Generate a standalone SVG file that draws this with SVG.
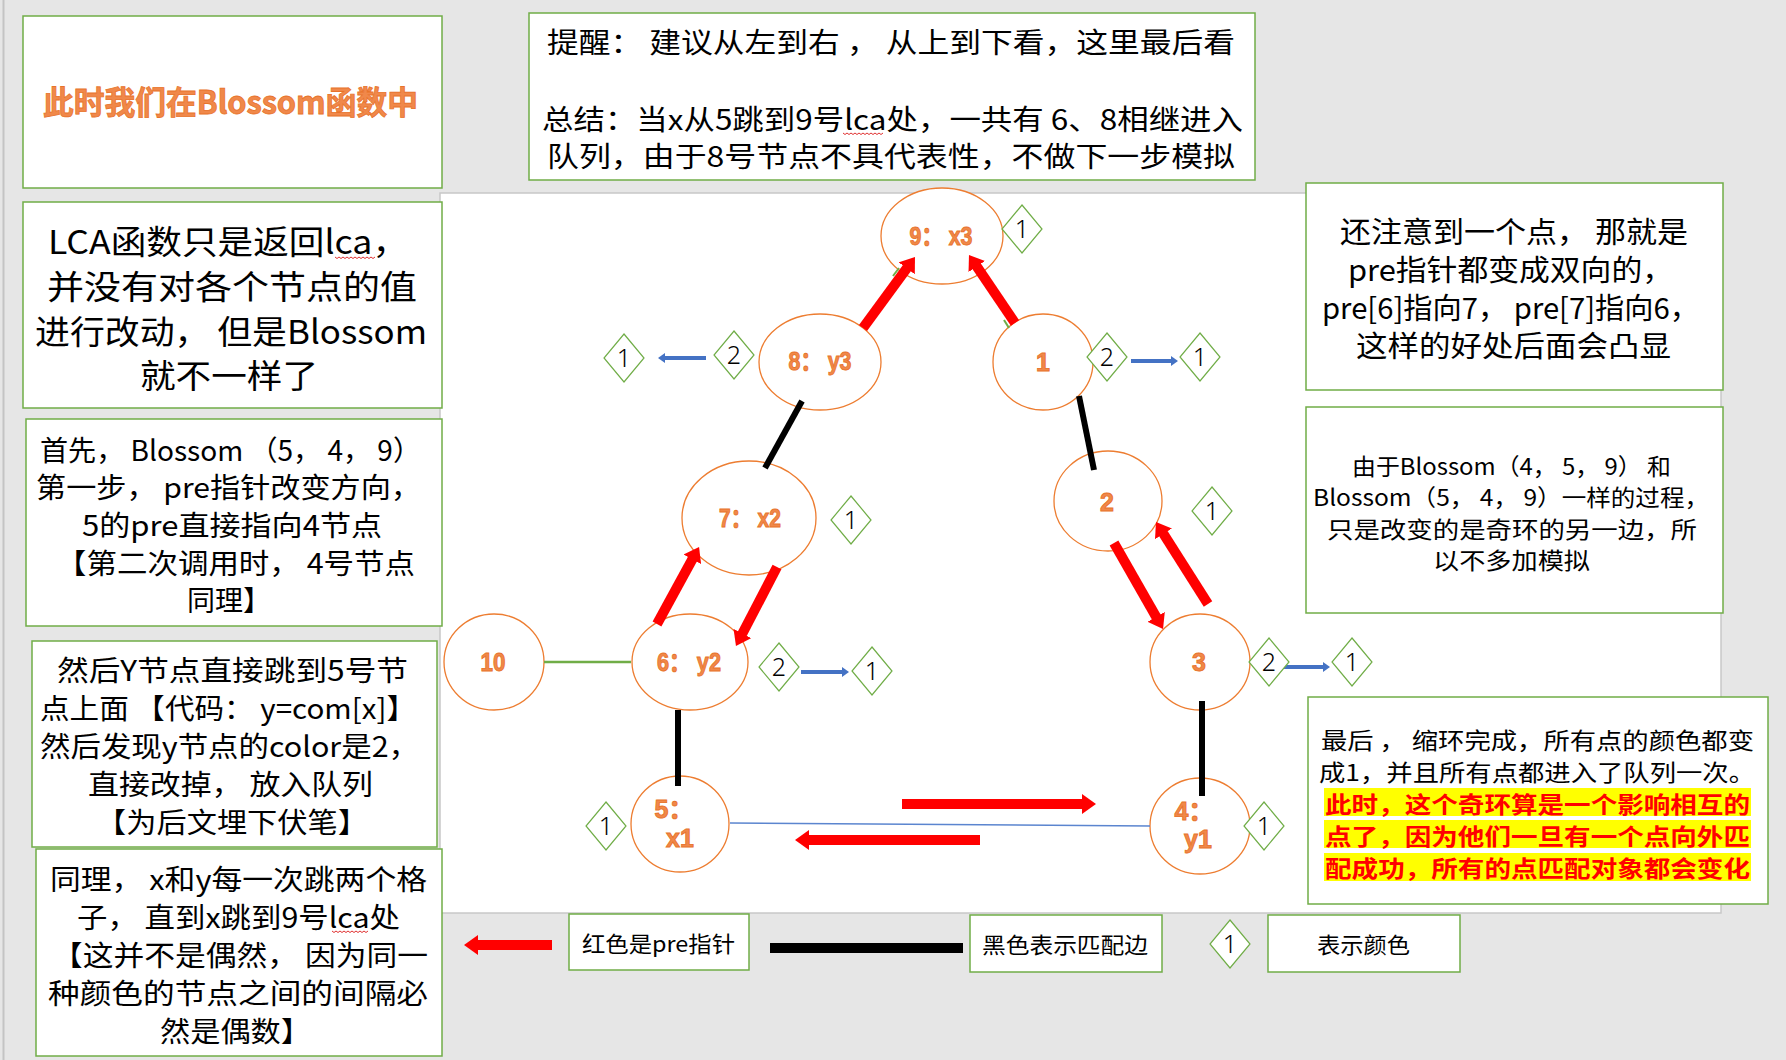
<svg xmlns="http://www.w3.org/2000/svg" xmlns:xlink="http://www.w3.org/1999/xlink" width="1786" height="1060" viewBox="0 0 1786 1060">
<style>
.box{fill:#fff;stroke:#70ad47;stroke-width:1.5}
.t{font-family:"Noto Sans CJK SC","Noto Sans",sans-serif;fill:#000}
.title{font-family:"Noto Sans CJK SC",sans-serif;font-weight:bold;font-size:32px;fill:#f0884a;stroke:#e8732a;stroke-width:0.8}
.hl{font-family:"Noto Sans CJK SC",sans-serif;font-weight:bold;font-size:23px;fill:#ff0000}
.node ellipse{fill:#fff;stroke:#ed7d31;stroke-width:1.3}
.nl{font-family:"Liberation Sans","Noto Sans CJK SC",sans-serif;font-weight:bold;font-size:25px;fill:#f0884a;stroke:#e8732a;stroke-width:0.9;text-anchor:middle}
.dia use{fill:#fff;stroke:#70ad47;stroke-width:1.2}
.dt{font-family:"Noto Sans","DejaVu Sans",sans-serif;font-weight:300;font-size:25px;fill:#000;text-anchor:middle}
.match{stroke:#000;stroke-width:6}
.pre{stroke:#ff0000;stroke-width:10;marker-end:url(#rh)}
.col{stroke:#4472c4;stroke-width:4;marker-end:url(#bh)}
.spell{fill:none;stroke:#e03030;stroke-width:1}
</style>
<defs>
<marker id="rh" markerUnits="userSpaceOnUse" markerWidth="14" markerHeight="20" viewBox="0 0 14 20" refX="2" refY="10" orient="auto">
<path d="M0,0 L14,10 L0,20 Z" fill="#ff0000"/>
</marker>
<marker id="bh" markerUnits="userSpaceOnUse" markerWidth="7" markerHeight="10" viewBox="0 0 7 10" refX="1" refY="5" orient="auto">
<path d="M0,0 L7,5 L0,10 Z" fill="#4472c4"/>
</marker>
<polygon id="dshape" points="0,-24 20,0 0,24 -20,0"/>
</defs>

<rect x="0" y="0" width="1786" height="1060" fill="#e6e6e6"/>
<line x1="3.5" y1="0" x2="3.5" y2="1060" stroke="#c4c4c4" stroke-width="2"/>
<rect x="440" y="193" width="1281" height="720" fill="#fff" stroke="#c8c8c8" stroke-width="1.5"/>

<!-- text boxes -->
<g id="box-title">
<rect class="box" x="23" y="16" width="419" height="172"/>
<text class="title" x="43" y="114" textLength="375" lengthAdjust="spacingAndGlyphs">此时我们在Blossom函数中</text>
</g>

<g id="box-lca" class="t" font-size="33">
<rect class="box" x="23" y="202" width="419" height="206"/>
<text x="48" y="254" textLength="360" lengthAdjust="spacingAndGlyphs">LCA函数只是返回lca，</text>
<text x="47" y="299" textLength="370" lengthAdjust="spacingAndGlyphs">并没有对各个节点的值</text>
<text x="35" y="344" textLength="392" lengthAdjust="spacingAndGlyphs">进行改动，  但是Blossom</text>
<text x="140" y="388" textLength="178" lengthAdjust="spacingAndGlyphs">就不一样了</text>
<path class="spell" d="M335,257 l2,1.5 l2,-1.5 l2,1.5 l2,-1.5 l2,1.5 l2,-1.5 l2,1.5 l2,-1.5 l2,1.5 l2,-1.5 l2,1.5 l2,-1.5 l2,1.5 l2,-1.5 l2,1.5 l2,-1.5 l2,1.5 l2,-1.5 l2,1.5 l2,-1.5"/>
</g>

<g id="box-first" class="t" font-size="28">
<rect class="box" x="26" y="419" width="416" height="207"/>
<text x="40" y="461" textLength="381" lengthAdjust="spacingAndGlyphs">首先，  Blossom （5，  4，  9）</text>
<text x="36" y="498" textLength="385" lengthAdjust="spacingAndGlyphs">第一步，  pre指针改变方向，</text>
<text x="82" y="536" textLength="300" lengthAdjust="spacingAndGlyphs">5的pre直接指向4节点</text>
<text x="56" y="574" textLength="359" lengthAdjust="spacingAndGlyphs">【第二次调用时，  4号节点</text>
<text x="187" y="611" textLength="84" lengthAdjust="spacingAndGlyphs">同理】</text>
</g>

<g id="box-then" class="t" font-size="28">
<rect class="box" x="32" y="641" width="405" height="206"/>
<text x="57" y="681" textLength="351" lengthAdjust="spacingAndGlyphs">然后Y节点直接跳到5号节</text>
<text x="40" y="719" textLength="376" lengthAdjust="spacingAndGlyphs">点上面 【代码：  y=com[x]】</text>
<text x="40" y="757" textLength="379" lengthAdjust="spacingAndGlyphs">然后发现y节点的color是2，</text>
<text x="88" y="795" textLength="285" lengthAdjust="spacingAndGlyphs">直接改掉，  放入队列</text>
<text x="96" y="833" textLength="272" lengthAdjust="spacingAndGlyphs">【为后文埋下伏笔】</text>
</g>

<g id="box-same" class="t" font-size="28">
<rect class="box" x="36" y="849" width="406" height="207"/>
<text x="50" y="890" textLength="377" lengthAdjust="spacingAndGlyphs">同理，  x和y每一次跳两个格</text>
<text x="77" y="928" textLength="323" lengthAdjust="spacingAndGlyphs">子，  直到x跳到9号lca处</text>
<text x="52" y="966" textLength="376" lengthAdjust="spacingAndGlyphs">【这并不是偶然，  因为同一</text>
<text x="48" y="1004" textLength="380" lengthAdjust="spacingAndGlyphs">种颜色的节点之间的间隔必</text>
<text x="160" y="1042" textLength="151" lengthAdjust="spacingAndGlyphs">然是偶数】</text>
<path class="spell" d="M332,931 l2,1.5 l2,-1.5 l2,1.5 l2,-1.5 l2,1.5 l2,-1.5 l2,1.5 l2,-1.5 l2,1.5 l2,-1.5 l2,1.5 l2,-1.5 l2,1.5 l2,-1.5 l2,1.5 l2,-1.5 l2,1.5 l2,-1.5"/>
</g>

<g id="box-note" class="t" font-size="28">
<rect class="box" x="529" y="13" width="726" height="167"/>
<text x="547" y="53" textLength="688" lengthAdjust="spacingAndGlyphs">提醒：  建议从左到右 ，  从上到下看，这里最后看</text>
<text x="542" y="130" textLength="701" lengthAdjust="spacingAndGlyphs">总结：当x从5跳到9号lca处，一共有 6、8相继进入</text>
<text x="547" y="167" textLength="688" lengthAdjust="spacingAndGlyphs">队列，由于8号节点不具代表性，不做下一步模拟</text>
<path class="spell" d="M843,133 l2,1.5 l2,-1.5 l2,1.5 l2,-1.5 l2,1.5 l2,-1.5 l2,1.5 l2,-1.5 l2,1.5 l2,-1.5 l2,1.5 l2,-1.5 l2,1.5 l2,-1.5 l2,1.5 l2,-1.5 l2,1.5 l2,-1.5 l2,1.5 l2,-1.5"/>
</g>

<g id="box-notice" class="t" font-size="29">
<rect class="box" x="1306" y="183" width="417" height="207"/>
<text x="1340" y="243" textLength="348" lengthAdjust="spacingAndGlyphs">还注意到一个点，  那就是</text>
<text x="1348" y="281" textLength="325" lengthAdjust="spacingAndGlyphs">pre指针都变成双向的，</text>
<text x="1322" y="319" textLength="377" lengthAdjust="spacingAndGlyphs">pre[6]指向7，  pre[7]指向6，</text>
<text x="1356" y="357" textLength="315" lengthAdjust="spacingAndGlyphs">这样的好处后面会凸显</text>
</g>

<g id="box-since" class="t" font-size="23">
<rect class="box" x="1306" y="407" width="417" height="206"/>
<text x="1352" y="475" textLength="319" lengthAdjust="spacingAndGlyphs">由于Blossom（4，  5，  9）  和</text>
<text x="1313" y="506" textLength="396" lengthAdjust="spacingAndGlyphs">Blossom（5，  4，  9）一样的过程，</text>
<text x="1327" y="538" textLength="370" lengthAdjust="spacingAndGlyphs">只是改变的是奇环的另一边，所</text>
<text x="1433" y="569" textLength="157" lengthAdjust="spacingAndGlyphs">以不多加模拟</text>
</g>

<g id="box-final" class="t" font-size="23">
<rect class="box" x="1308" y="697" width="460" height="207"/>
<text x="1321" y="749" textLength="433" lengthAdjust="spacingAndGlyphs">最后 ，  缩环完成，所有点的颜色都变</text>
<text x="1319" y="781" textLength="436" lengthAdjust="spacingAndGlyphs">成1，并且所有点都进入了队列一次。</text>
<rect x="1324" y="788" width="427" height="28" fill="#ffff00"/>
<rect x="1324" y="820" width="427" height="28" fill="#ffff00"/>
<rect x="1324" y="853" width="427" height="28" fill="#ffff00"/>
<text class="hl" x="1325" y="813" textLength="425" lengthAdjust="spacingAndGlyphs">此时，这个奇环算是一个影响相互的</text>
<text class="hl" x="1325" y="845" textLength="425" lengthAdjust="spacingAndGlyphs">点了，因为他们一旦有一个点向外匹</text>
<text class="hl" x="1325" y="877" textLength="425" lengthAdjust="spacingAndGlyphs">配成功，所有的点匹配对象都会变化</text>
</g>

<!-- legend -->
<g id="legend-pre" class="t" font-size="22">
<rect class="box" x="569" y="914" width="180" height="56"/>
<text x="582" y="952" textLength="153" lengthAdjust="spacingAndGlyphs">红色是pre指针</text>
</g>
<g id="legend-match" class="t" font-size="22">
<rect class="box" x="970" y="915" width="192" height="57"/>
<text x="982" y="953" textLength="166" lengthAdjust="spacingAndGlyphs">黑色表示匹配边</text>
</g>
<g id="legend-color" class="t" font-size="22">
<rect class="box" x="1268" y="915" width="192" height="57"/>
<text x="1317" y="953" textLength="93" lengthAdjust="spacingAndGlyphs">表示颜色</text>
</g>

<!-- graph nodes -->
<g id="n9" class="node"><ellipse cx="942" cy="236" rx="61" ry="48"/><text class="nl" x="941" y="245" textLength="63" lengthAdjust="spacingAndGlyphs">9： x3</text></g>
<g id="n8" class="node"><ellipse cx="820" cy="362" rx="61" ry="48"/><text class="nl" x="820" y="370" textLength="63" lengthAdjust="spacingAndGlyphs">8： y3</text></g>
<g id="n1" class="node"><ellipse cx="1043" cy="362" rx="50" ry="48"/><text class="nl" x="1043" y="371">1</text></g>
<g id="n7" class="node"><ellipse cx="749" cy="518" rx="67" ry="57"/><text class="nl" x="750" y="527" textLength="62" lengthAdjust="spacingAndGlyphs">7： x2</text></g>
<g id="n2" class="node"><ellipse cx="1108" cy="501" rx="54" ry="50"/><text class="nl" x="1107" y="511">2</text></g>
<g id="n10" class="node"><ellipse cx="494" cy="662" rx="50" ry="48"/><text class="nl" x="493" y="671" textLength="25" lengthAdjust="spacingAndGlyphs">10</text></g>
<g id="n6" class="node"><ellipse cx="690" cy="662" rx="58" ry="48"/><text class="nl" x="689" y="671" textLength="64" lengthAdjust="spacingAndGlyphs">6： y2</text></g>
<g id="n3" class="node"><ellipse cx="1200" cy="662" rx="50" ry="48"/><text class="nl" x="1199" y="671">3</text></g>
<g id="n5" class="node"><ellipse cx="680" cy="824" rx="49" ry="48"/><text class="nl" x="674" y="818">5：</text><text class="nl" x="680" y="847">x1</text></g>
<g id="n4" class="node"><ellipse cx="1200" cy="826" rx="50" ry="48"/><text class="nl" x="1194" y="820">4：</text><text class="nl" x="1198" y="848">y1</text></g>

<!-- connectors -->
<g id="connectors">
<line x1="544" y1="662" x2="631" y2="662" stroke="#70ad47" stroke-width="2.5"/>
<line x1="730" y1="823" x2="1150" y2="826" stroke="#5b85cf" stroke-width="1.6"/>
<line x1="893" y1="276" x2="899" y2="268" stroke="#70ad47" stroke-width="2"/>
<line x1="1009" y1="328" x2="1004" y2="320" stroke="#70ad47" stroke-width="2"/>
<line class="match" x1="802" y1="401" x2="765" y2="468"/>
<line class="match" x1="1079" y1="396" x2="1094" y2="470"/>
<line class="match" x1="678" y1="710" x2="678" y2="786"/>
<line class="match" x1="1202" y1="701" x2="1202" y2="796"/>
<line class="pre" x1="863" y1="328" x2="907.9" y2="266.7"/>
<line class="pre" x1="1015" y1="323" x2="975.7" y2="264.9"/>
<line class="pre" x1="657" y1="624" x2="693.3" y2="557.5"/>
<line class="pre" x1="777" y1="567" x2="741.5" y2="635.3"/>
<line class="pre" x1="1114" y1="543" x2="1157.1" y2="618.6"/>
<line class="pre" x1="1208" y1="604" x2="1162.4" y2="532.1"/>
<line class="pre" x1="902" y1="804" x2="1084" y2="804"/>
<line class="pre" x1="980" y1="840" x2="807" y2="840"/>
<line class="pre" x1="552" y1="945" x2="476" y2="945"/>
<line x1="770" y1="948" x2="963" y2="948" style="stroke:#000;stroke-width:10"/>
<line class="col" x1="706" y1="358" x2="664" y2="358"/>
<line class="col" x1="1131" y1="361" x2="1172" y2="361"/>
<line class="col" x1="801" y1="672" x2="843" y2="672"/>
<line class="col" x1="1283" y1="667" x2="1324" y2="667"/>
</g>

<!-- colour diamonds -->
<g id="d9" class="dia"><use xlink:href="#dshape" x="1022" y="229"/><text class="dt" x="1022" y="238">1</text></g>
<g id="d8a" class="dia"><use xlink:href="#dshape" x="624" y="358"/><text class="dt" x="624" y="367">1</text></g>
<g id="d8b" class="dia"><use xlink:href="#dshape" x="734" y="355"/><text class="dt" x="734" y="364">2</text></g>
<g id="d1a" class="dia"><use xlink:href="#dshape" x="1107" y="357"/><text class="dt" x="1107" y="366">2</text></g>
<g id="d1b" class="dia"><use xlink:href="#dshape" x="1200" y="357"/><text class="dt" x="1200" y="366">1</text></g>
<g id="d7" class="dia"><use xlink:href="#dshape" x="851" y="520"/><text class="dt" x="851" y="529">1</text></g>
<g id="d2" class="dia"><use xlink:href="#dshape" x="1212" y="511"/><text class="dt" x="1212" y="520">1</text></g>
<g id="d6a" class="dia"><use xlink:href="#dshape" x="779" y="667"/><text class="dt" x="779" y="676">2</text></g>
<g id="d6b" class="dia"><use xlink:href="#dshape" x="872" y="671"/><text class="dt" x="872" y="680">1</text></g>
<g id="d5" class="dia"><use xlink:href="#dshape" x="606" y="826"/><text class="dt" x="606" y="835">1</text></g>
<g id="d3a" class="dia"><use xlink:href="#dshape" x="1269" y="662"/><text class="dt" x="1269" y="671">2</text></g>
<g id="d3b" class="dia"><use xlink:href="#dshape" x="1352" y="662"/><text class="dt" x="1352" y="671">1</text></g>
<g id="d4" class="dia"><use xlink:href="#dshape" x="1264" y="826"/><text class="dt" x="1264" y="835">1</text></g>
<g id="dlegend" class="dia"><use xlink:href="#dshape" x="1230" y="944"/><text class="dt" x="1230" y="953">1</text></g>
</svg>
